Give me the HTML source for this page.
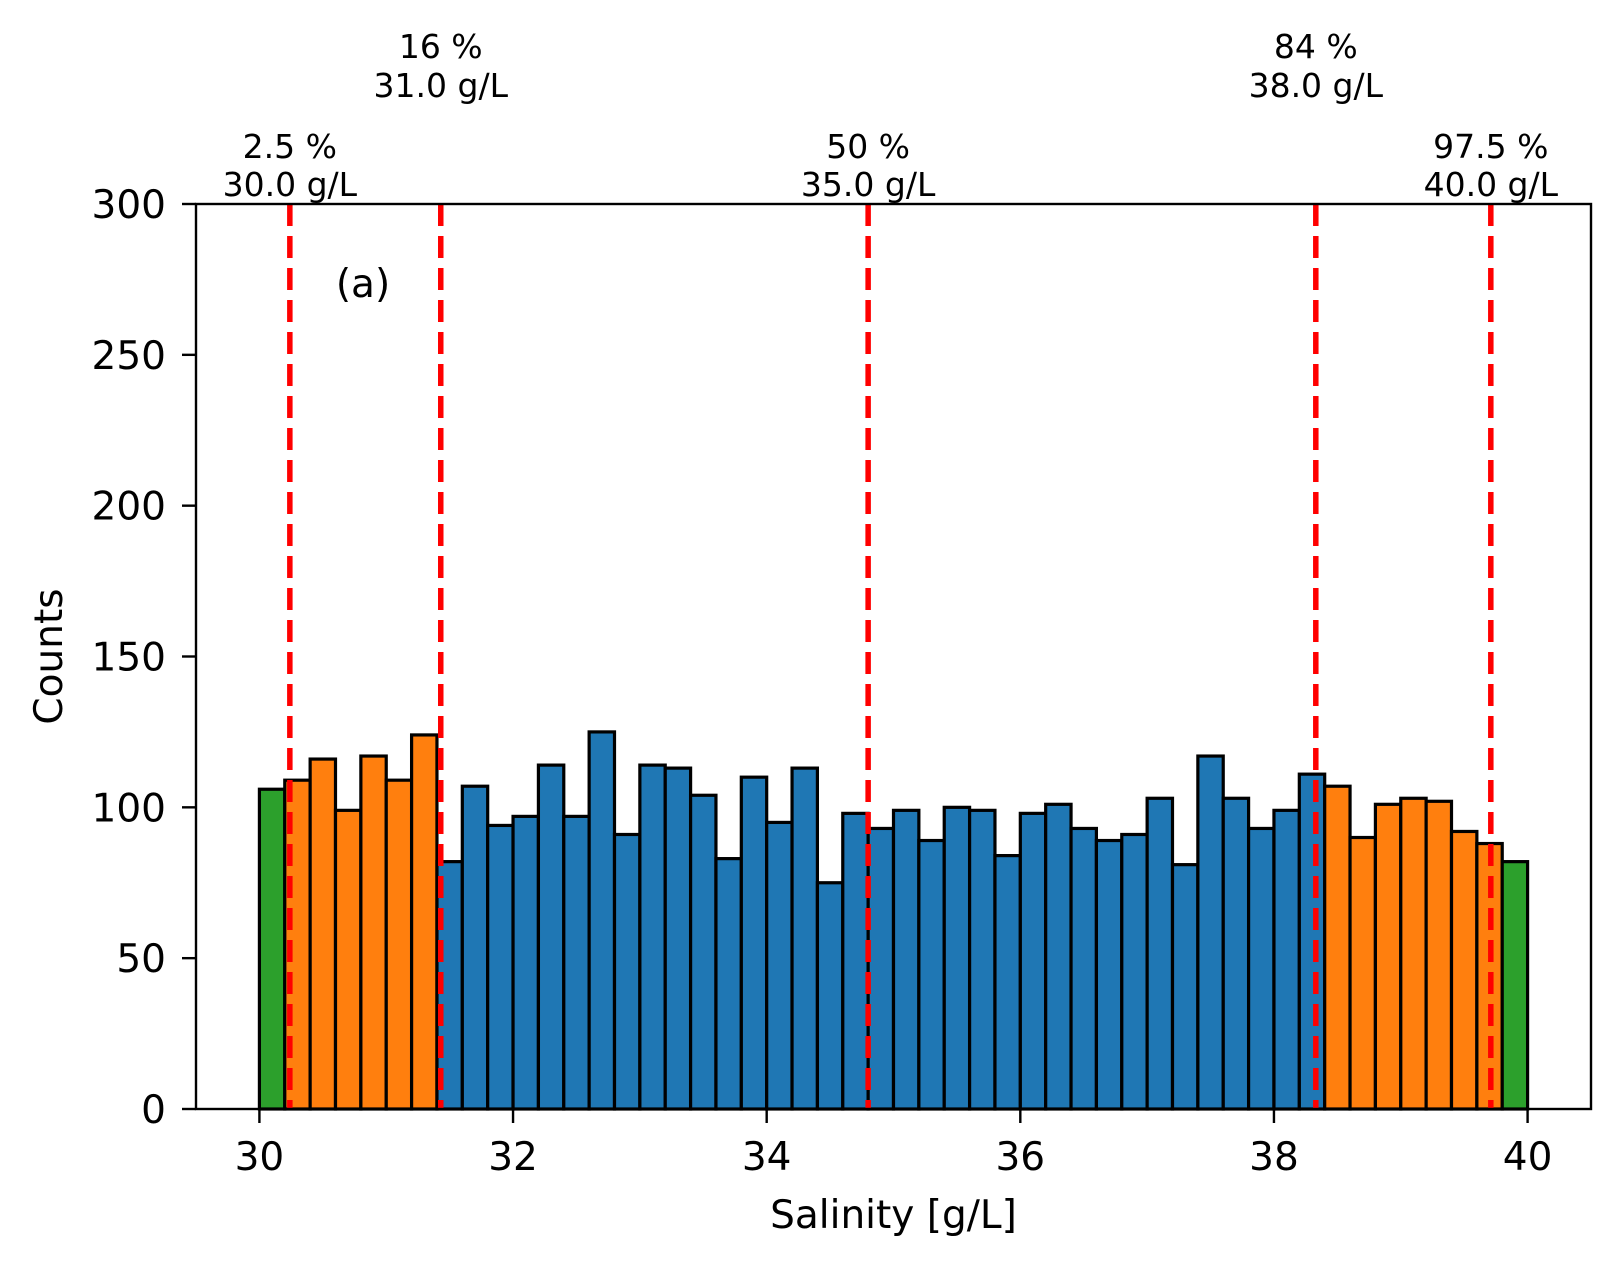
<!DOCTYPE html>
<html><head><meta charset="utf-8"><style>
html,body{margin:0;padding:0;background:#fff;}
svg{display:block;font-family:"DejaVu Sans","Liberation Sans",sans-serif;}
</style></head><body>
<svg id="chart" width="1623" height="1266" viewBox="0 0 1623 1266" xmlns="http://www.w3.org/2000/svg">
<g id="bars"></g>
<g id="lines"></g>
<g id="axes"></g>
</svg>
<script>
const binStarts = [30.0,30.2,30.4,30.6,30.8,31.0,31.2,31.4,31.6,31.8,32.0,32.2,32.4,32.6,32.8,33.0,33.2,33.4,33.6,33.8,34.0,34.2,34.4,34.6,34.8,35.0,35.2,35.4,35.6,35.8,36.0,36.2,36.4,36.6,36.8,37.0,37.2,37.4,37.6,37.8,38.0,38.2,38.4,38.6,38.8,39.0,39.2,39.4,39.6,39.8];
const counts = [106,109,116,99,117,109,124,82,107,94,97,114,97,125,91,114,113,104,83,110,95,113,75,98,93,99,89,100,99,84,98,101,93,89,91,103,81,117,103,93,99,111,107,90,101,103,102,92,88,82];
const binGroups = ['g','o','o','o','o','o','o','b','b','b','b','b','b','b','b','b','b','b','b','b','b','b','b','b','b','b','b','b','b','b','b','b','b','b','b','b','b','b','b','b','b','b','o','o','o','o','o','o','o','g'];
const binWidth = 0.2;
const pctLabels = ['2.5 %','16 %','50 %','84 %','97.5 %'];
const pctValues = ['30.0 g/L','31.0 g/L','35.0 g/L','38.0 g/L','40.0 g/L'];
const pctPositions = [30.24,31.43,34.80,38.33,39.71];
const xTicks = [30,32,34,36,38,40];
const yTicks = [0,50,100,150,200,250,300];

const NS='http://www.w3.org/2000/svg';
const L=196,R=1591,T=204,B=1109;
const xMin=29.5,xMax=40.5,yMin=0,yMax=300;
const X=v=>L+(v-xMin)/(xMax-xMin)*(R-L);
const Y=v=>B-(v-yMin)/(yMax-yMin)*(B-T);
const colors={g:'#2ca02c',o:'#ff7f0e',b:'#1f77b4'};
function mk(tag,attrs,parent,txt){const e=document.createElementNS(NS,tag);for(const k in attrs)e.setAttribute(k,attrs[k]);if(txt!==undefined)e.textContent=txt;parent.appendChild(e);return e;}
const gb=document.getElementById('bars'),gl=document.getElementById('lines'),ga=document.getElementById('axes'),svg=document.getElementById('chart');
counts.forEach((c,i)=>{
 const x0=X(binStarts[i]),x1=X(binStarts[i]+binWidth);
 const r=mk('rect',{x:x0,y:Y(c),width:x1-x0,height:Y(0)-Y(c),fill:colors[binGroups[i]],stroke:'#000','stroke-width':3.2},gb);
 
 
});
pctPositions.forEach((p,i)=>{
 const ln=mk('line',{x1:X(p),x2:X(p),y1:T,y2:B,stroke:'#ff0000','stroke-width':5.5,'stroke-dasharray':'22,10'},gl);
 
 
 const high=(i===1||i===3);
 const y1=high?58:158,y2=high?97:196;
 const t1=mk('text',{x:X(p),y:y1,'text-anchor':'middle','font-size':33},svg,pctLabels[i]);
 
 
 const t2=mk('text',{x:X(p),y:y2,'text-anchor':'middle','font-size':33},svg,pctValues[i]);
 
 
});
const frame=mk('rect',{x:L,y:T,width:R-L,height:B-T,fill:'none',stroke:'#000','stroke-width':2.4},ga);


xTicks.forEach(v=>{
 mk('line',{x1:X(v),x2:X(v),y1:B,y2:B+14,stroke:'#000','stroke-width':2.4},ga);
 const t=mk('text',{x:X(v),y:1170,'text-anchor':'middle','font-size':39},ga,String(v));
 
 
});
yTicks.forEach(v=>{
 mk('line',{x1:L-14,x2:L,y1:Y(v),y2:Y(v),stroke:'#000','stroke-width':2.4},ga);
 const t=mk('text',{x:L-30,y:Y(v)+14,'text-anchor':'end','font-size':39},ga,String(v));
 
 
});
const xt=mk('text',{x:(L+R)/2,y:1228,'text-anchor':'middle','font-size':39},ga,'Salinity [g/L]');


const yt=mk('text',{x:0,y:0,'text-anchor':'middle','font-size':39,transform:'translate(62,'+((T+B)/2)+') rotate(-90)'},ga,'Counts');


const pa=mk('text',{x:363,y:297,'text-anchor':'middle','font-size':39},ga,'(a)');


</script>
</body></html>
